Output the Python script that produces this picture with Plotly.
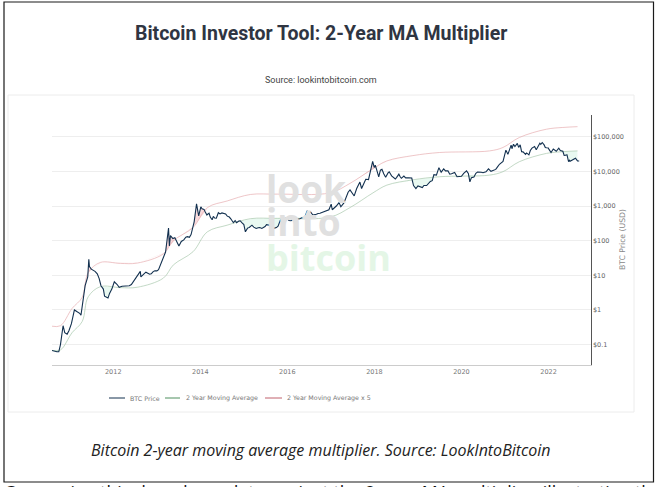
import numpy as np
import pandas as pd
import plotly.graph_objects as go

W, H = 656, 487

price_dates = [
    "2010-08-01", "2010-08-20", "2010-09-15", "2010-10-01", "2010-10-15", "2010-11-06", "2010-11-20", "2010-12-10",
    "2010-12-25", "2011-01-15", "2011-02-09", "2011-03-01", "2011-03-25", "2011-04-05", "2011-04-20", "2011-05-10",
    "2011-06-01", "2011-06-10", "2011-06-15", "2011-07-01", "2011-08-01", "2011-08-20", "2011-09-05", "2011-09-20",
    "2011-10-10", "2011-10-20", "2011-11-18", "2011-12-01", "2011-12-20", "2012-01-10", "2012-02-01", "2012-02-20",
    "2012-03-15", "2012-05-15", "2012-06-15", "2012-07-15", "2012-08-15", "2012-08-20", "2012-09-15", "2012-10-15",
    "2012-11-15", "2012-12-15", "2013-01-15", "2013-02-15", "2013-03-15", "2013-04-09", "2013-04-16", "2013-04-25",
    "2013-05-15", "2013-06-15", "2013-07-05", "2013-07-25", "2013-08-15", "2013-09-15", "2013-10-15", "2013-11-10",
    "2013-11-30", "2013-12-18", "2013-12-25", "2014-01-05", "2014-02-01", "2014-02-25", "2014-03-15", "2014-04-10",
    "2014-05-01", "2014-06-01", "2014-07-01", "2014-08-01", "2014-09-01", "2014-10-05", "2014-11-01", "2014-11-20",
    "2014-12-15", "2015-01-14", "2015-02-01", "2015-03-10", "2015-04-15", "2015-05-15", "2015-06-15", "2015-07-10",
    "2015-08-20", "2015-09-15", "2015-10-15", "2015-11-05", "2015-11-15", "2015-12-15", "2016-01-15", "2016-02-15",
    "2016-03-15", "2016-04-15", "2016-05-25", "2016-06-16", "2016-07-01", "2016-08-02", "2016-09-15", "2016-10-15",
    "2016-11-15", "2016-12-15", "2017-01-03", "2017-01-12", "2017-02-15", "2017-03-10", "2017-03-25", "2017-04-20",
    "2017-05-25", "2017-06-10", "2017-07-15", "2017-08-05", "2017-09-01", "2017-09-15", "2017-10-20", "2017-11-12",
    "2017-11-28", "2017-12-17", "2017-12-30", "2018-01-08", "2018-01-20", "2018-02-06", "2018-03-05", "2018-04-05",
    "2018-05-05", "2018-06-25", "2018-07-25", "2018-08-15", "2018-09-05", "2018-10-15", "2018-11-10", "2018-11-25",
    "2018-12-15", "2019-01-15", "2019-02-07", "2019-03-15", "2019-04-15", "2019-05-15", "2019-06-26", "2019-07-15",
    "2019-08-05", "2019-09-25", "2019-10-26", "2019-11-25", "2019-12-15", "2020-02-13", "2020-03-12", "2020-04-15",
    "2020-05-15", "2020-06-15", "2020-07-25", "2020-08-15", "2020-09-05", "2020-10-15", "2020-11-15", "2020-12-15",
    "2020-12-31", "2021-01-08", "2021-01-25", "2021-02-21", "2021-02-28", "2021-03-13", "2021-04-14", "2021-04-25",
    "2021-05-08", "2021-05-20", "2021-06-22", "2021-07-20", "2021-08-15", "2021-09-06", "2021-09-20", "2021-10-20",
    "2021-11-09", "2021-12-05", "2021-12-30", "2022-01-22", "2022-02-10", "2022-03-07", "2022-03-28", "2022-05-01",
    "2022-05-12", "2022-06-01", "2022-06-18", "2022-07-01", "2022-07-15", "2022-08-15", "2022-09-01", "2022-09-15",
]
btc_price = [
    0.068, 0.065, 0.062, 0.062, 0.10, 0.35, 0.22, 0.20,
    0.25, 0.40, 1.0, 0.9, 0.8, 0.7, 1.5, 5,
    9, 29, 18, 15, 13, 11, 8, 5,
    4, 2.5, 2.2, 3, 4, 6.5, 5.5, 4.5,
    4.8, 5, 6.3, 8.7, 13, 9, 11, 11.5,
    11, 13.5, 14.5, 27, 47, 230, 70, 140,
    115, 100, 70, 95, 105, 130, 150, 350,
    1150, 520, 700, 950, 800, 550, 620, 400,
    450, 640, 630, 590, 480, 330, 330, 370,
    330, 180, 230, 280, 225, 240, 240, 290,
    230, 230, 260, 400, 320, 440, 380, 410,
    415, 430, 450, 730, 670, 550, 610, 640,
    730, 780, 1130, 780, 1000, 1250, 950, 1230,
    2500, 2900, 1950, 3200, 4900, 3200, 5900, 5800,
    10000, 19500, 13000, 15000, 11000, 6900, 11400, 6800,
    9700, 6000, 8300, 6300, 7300, 6500, 6400, 3900,
    3200, 3600, 3400, 3900, 5100, 8000, 12800, 9500,
    11800, 8300, 9300, 7000, 7100, 10300, 5000, 6900,
    9500, 9400, 9700, 11800, 10000, 11400, 16000, 19400,
    29000, 41000, 31000, 57000, 45000, 61000, 64000, 49000,
    58000, 37000, 31000, 30000, 47000, 52000, 42000, 65000,
    68000, 49000, 47000, 35000, 44000, 38000, 47000, 38000,
    29000, 31000, 19000, 19500, 21000, 24000, 20000, 20000,
]

# finer wiggles read between the main turning points
detail_dates = [
    "2012-04-15", "2012-06-01", "2012-09-01", "2012-10-01", "2012-11-01", "2012-12-01", "2013-01-01", "2013-02-01",
    "2013-06-01", "2013-08-01", "2013-09-01", "2013-10-01", "2014-01-15", "2014-02-10", "2014-03-01", "2014-03-25",
    "2014-04-20", "2014-05-15", "2014-06-15", "2014-07-15", "2014-08-15", "2014-09-15", "2014-10-20", "2014-12-01",
    "2015-01-01", "2015-02-15", "2015-03-25", "2015-05-01", "2015-06-01", "2015-06-28", "2015-07-25", "2015-08-05",
    "2015-09-01", "2015-10-01", "2015-12-01", "2016-01-01", "2016-02-01", "2016-03-01", "2016-04-01", "2016-05-01",
    "2016-06-01", "2016-06-25", "2016-07-15", "2016-09-01", "2016-10-01", "2016-11-01", "2016-12-01", "2018-02-20",
    "2018-03-20", "2018-04-25", "2018-05-25", "2018-07-05", "2018-08-05", "2018-09-20", "2018-10-30", "2019-01-01",
    "2019-02-20", "2019-05-01", "2019-06-05", "2019-08-20", "2019-09-10", "2019-10-10", "2019-11-05", "2020-01-01",
    "2020-01-20", "2020-02-28", "2020-03-25", "2020-05-01", "2020-06-30", "2020-09-25", "2020-10-30", "2021-03-25",
    "2021-06-01", "2021-07-01", "2021-08-01", "2021-10-01", "2021-10-28", "2021-11-25", "2021-12-15", "2022-01-05",
    "2022-02-25", "2022-04-10", "2022-05-25", "2022-06-05", "2022-06-25", "2022-08-01",
]
detail_price = [
    5.0, 5.4, 10.2, 12.3, 10.7, 12.8, 13.4, 20,
    122, 98, 125, 125, 830, 680, 570, 480,
    500, 445, 590, 620, 510, 420, 380, 375,
    290, 240, 245, 235, 225, 255, 280, 280,
    228, 238, 370, 430, 375, 435, 418, 455,
    535, 620, 665, 575, 615, 700, 760, 10800,
    8500, 9000, 7400, 6600, 7000, 6500, 6350, 3800,
    3900, 5400, 7800, 10300, 10300, 8500, 9300, 7200,
    8700, 8700, 6600, 8800, 9150, 10700, 13500, 52000,
    36500, 34000, 40000, 48000, 60000, 58000, 48000, 43000,
    39000, 40000, 29500, 30000, 21000, 23000,
]

ma_dates = [
    "2010-08-01", "2010-10-15", "2011-01-20", "2011-04-15", "2011-06-05", "2011-09-15", "2012-03-01", "2012-07-20",
    "2013-02-25", "2013-05-20", "2013-11-01", "2014-03-01", "2014-08-15", "2015-02-25", "2015-10-10", "2016-12-25",
    "2017-06-10", "2017-12-20", "2018-04-15", "2018-11-20", "2019-07-01", "2020-08-25", "2020-12-15", "2021-05-01",
    "2021-12-15", "2022-05-01", "2022-09-01",
]
ma_2y = [
    0.068, 0.07, 0.22, 0.46, 2.4, 4.7, 4.4, 4.5,
    8.3, 20, 48, 180, 280, 430, 440, 480,
    900, 2400, 4000, 5700, 7000, 7800, 9800, 19000,
    33000, 37000, 39000,
]
ma_2y_x5 = [
    0.34, 0.35, 1.1, 2.3, 12, 23.5, 22, 22.5,
    41.5, 100, 240, 900, 1400, 2150, 2200, 2400,
    4500, 12000, 20000, 28500, 35000, 39000, 49000, 95000,
    165000, 185000, 195000,
]

y_ticks = [0.1, 1, 10, 100, 1000, 10000, 100000]
y_labels = ["$0.1", "$1", "$10", "$100", "$1,000", "$10,000", "$100,000"]
x_ticks = ["2012-01-01", "2014-01-01", "2016-01-01", "2018-01-01", "2020-01-01", "2022-01-01"]
x_labels = ["2012", "2014", "2016", "2018", "2020", "2022"]
series_names = ["BTC Price", "2 Year Moving Average", "2 Year Moving Average x 5"]


def px(x):
    return x / W


def py(y):
    return 1 - y / H


def note(text, x, y, size, color, family="Roboto", xanchor="center", yanchor="middle", **kw):
    fig.add_annotation(text=text, x=px(x), y=py(y), xref="paper", yref="paper", showarrow=False,
                       xanchor=xanchor, yanchor=yanchor, font=dict(size=size, color=color, family=family), **kw)


def frame(x0, y0, x1, y1, color, width):
    fig.add_shape(type="rect", xref="paper", yref="paper", x0=px(x0), x1=px(x1), y0=py(y0), y1=py(y1),
                  line=dict(color=color, width=width), layer="below")


price = pd.Series(btc_price + detail_price, index=pd.to_datetime(price_dates + detail_dates)).sort_index()

# shading between the price and the two bands
p = price.index.astype("int64").to_numpy(dtype=float)
m = pd.to_datetime(ma_dates).astype("int64").to_numpy(dtype=float)
grid = pd.date_range(ma_dates[0], ma_dates[-1], freq="3D")
g = grid.astype("int64").to_numpy(dtype=float)
price_g = 10 ** np.interp(g, p, np.log10(price.values))
ma_g = 10 ** np.interp(g, m, np.log10(ma_2y))
x5_g = 10 ** np.interp(g, m, np.log10(ma_2y_x5))

fig = go.Figure()
no_line = dict(width=0)
fig.add_trace(go.Scatter(x=grid, y=ma_g, mode="lines", line=no_line, showlegend=False, hoverinfo="skip"))
fig.add_trace(go.Scatter(x=grid, y=np.minimum(ma_g, price_g), mode="lines", line=no_line, fill="tonexty",
                         fillcolor="rgba(120,220,170,0.16)", showlegend=False, hoverinfo="skip"))
fig.add_trace(go.Scatter(x=grid, y=x5_g, mode="lines", line=no_line, showlegend=False, hoverinfo="skip"))
fig.add_trace(go.Scatter(x=grid, y=np.maximum(x5_g, price_g), mode="lines", line=no_line, fill="tonexty",
                         fillcolor="rgba(230,110,120,0.25)", showlegend=False, hoverinfo="skip"))

fig.add_trace(go.Scatter(x=pd.to_datetime(ma_dates), y=ma_2y, mode="lines", name=series_names[1], showlegend=False,
                         line=dict(color="#a9c9ae", width=0.7, shape="spline")))
fig.add_trace(go.Scatter(x=pd.to_datetime(ma_dates), y=ma_2y_x5, mode="lines", name=series_names[2], showlegend=False,
                         line=dict(color="#e6aeb0", width=0.7, shape="spline")))
fig.add_trace(go.Scatter(x=price.index, y=price.values, mode="lines", name=series_names[0], showlegend=False,
                         line=dict(color="#12304f", width=1.1)))

fig.update_layout(width=W, height=H, margin=dict(l=0, r=0, t=0, b=0),
                  paper_bgcolor="white", plot_bgcolor="rgba(0,0,0,0)", showlegend=False)
fig.update_xaxes(domain=[px(52), px(590.6)], range=["2010-08-05", "2022-12-20"], tickmode="array",
                 tickvals=x_ticks, ticktext=x_labels, showgrid=False, zeroline=False, showline=True,
                 linecolor="#cccccc", linewidth=1, ticks="", tickangle=0,
                 tickfont=dict(size=6.5, color="#777777", family="DejaVu Sans"))
fig.update_yaxes(domain=[py(365), py(115)], type="log", range=[-1.59, 5.627], side="right", tickmode="array",
                 tickvals=y_ticks, ticktext=y_labels, showgrid=True, gridcolor="#eeeeee", gridwidth=0.8,
                 zeroline=False, showline=True, linecolor="#555555", linewidth=1, ticks="",
                 tickfont=dict(size=6.5, color="#666666", family="DejaVu Sans"))

# page frame and chart card
frame(4, 2, 653.5, 482, "#1a1a1a", 1.2)
frame(8, 95, 634, 412, "#ececec", 1)

# watermark
note("<b>look</b>", 264, 207, 37, "#e0e0e0", "Open Sans", "left", "bottom", yshift=-9)
note("<b>into</b>", 264, 240, 37, "#e0e0e0", "Open Sans", "left", "bottom", yshift=-9)
note("<b>bitcoin</b>", 264, 275, 36, "#e4f6e6", "Open Sans", "left", "bottom", yshift=-9)

note("<b>Bitcoin Investor Tool: 2-Year MA Multiplier</b>", 321, 33, 19.5, "#2f3542")
note("Source: lookintobitcoin.com", 321, 80, 9, "#444444")
note("<i>Bitcoin 2-year moving average multiplier. Source: LookIntoBitcoin</i>", 321, 450, 16, "#222222", "Open Sans")
note("Comparing this drawdown data against the 2-year MA multiplier, illustrating that", 2, 478, 17.8, "#111111",
     "Open Sans", "left", "top")
note("BTC Price (USD)", 622, 240, 7.7, "#888888", "DejaVu Sans", textangle=-90)

# legend row
legend_lines = [(109, 125, "#12304f"), (165, 180, "#4f8f5f"), (265, 282, "#c0606c")]
legend_text_x = [128, 184, 285]
for (x0, x1, color), tx, name in zip(legend_lines, legend_text_x, series_names):
    fig.add_shape(type="line", xref="paper", yref="paper", x0=px(x0), x1=px(x1), y0=py(398), y1=py(398),
                  line=dict(color=color, width=1))
    note(name, tx, 398, 6.3, "#777777", "DejaVu Sans", "left")

fig.write_html("out.html", post_script="document.body.style.margin='0';", config={"displayModeBar": False})
